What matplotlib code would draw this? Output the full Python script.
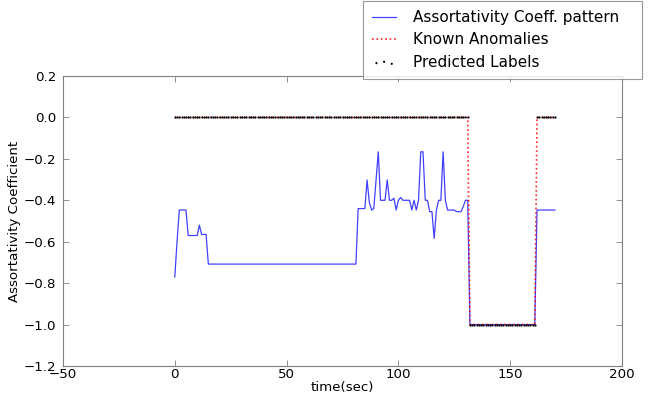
import matplotlib
matplotlib.use("Agg")
import matplotlib.pyplot as plt

# time axis (seconds)
time = list(range(0, 171))

# Assortativity coefficient pattern
assort_start = [-0.77, -0.60, -0.447, -0.447, -0.447, -0.447, -0.57, -0.57, -0.57, -0.57,
                -0.57, -0.52, -0.565, -0.565, -0.565]          # t = 0..14
assort_flat = [-0.708] * 67                                      # t = 15..81
assort_active = [
    -0.44, -0.44, -0.44, -0.44, -0.302, -0.41, -0.447, -0.44, -0.30,    # 82-90
    -0.166, -0.40, -0.40, -0.40, -0.302, -0.40, -0.40, -0.39, -0.447,   # 91-99
    -0.40, -0.386, -0.40, -0.40, -0.40, -0.40, -0.447, -0.40, -0.447,   # 100-108
    -0.40, -0.166, -0.166, -0.40, -0.40, -0.455, -0.455, -0.584, -0.447,  # 109-117
    -0.40, -0.40, -0.166, -0.40, -0.447, -0.447, -0.447, -0.447, -0.455,  # 118-126
    -0.455, -0.455, -0.43, -0.40, -0.40,                                  # 127-131
]
assort_anomaly = [-1.0] * 30                                     # t = 132..161
assort_end = [-0.447] * 9                                        # t = 162..170
assort = assort_start + assort_flat + assort_active + assort_anomaly + assort_end

# known anomalies (label signal) and predicted labels
known = [0.0] * 132 + [-1.0] * 30 + [0.0] * 9
predicted = [0.0] * 132 + [-1.0] * 30 + [0.0] * 9

xticks = [-50, 0, 50, 100, 150, 200]
yticks = [0.2, 0.0, -0.2, -0.4, -0.6, -0.8, -1.0, -1.2]

plt.rcParams['font.family'] = ['DejaVu Sans']
fig = plt.figure(figsize=(6.5, 3.98), dpi=100)
ax = fig.add_axes([63 / 650, 32 / 398, (622 - 63) / 650, (366 - 76) / 398])

ax.plot(time, assort, color='#0000ff', lw=0.9, alpha=0.75,
        label='Assortativity Coeff. pattern')
ax.plot(time, known, color='red', lw=1.2, linestyle=':', alpha=0.85,
        label='Known Anomalies')
ax.scatter(time, predicted, s=2.5, color='black', marker='o', lw=0,
           label='Predicted Labels', zorder=3)

ax.set_xlim(-50, 200)
ax.set_ylim(-1.2, 0.2)
ax.set_xticks(xticks)
ax.set_yticks(yticks)
ax.set_yticklabels(['%.1f' % v if v >= 0 else '\u2212%.1f' % abs(v) for v in yticks])
ax.set_xticklabels([str(v) if v >= 0 else '\u2212%d' % abs(v) for v in xticks])
ax.tick_params(direction='in', top=True, right=True, length=4, width=0.6,
               labelsize=9.6, color='0.5')
ax.tick_params(axis='x', pad=1.5)
ax.tick_params(axis='y', pad=5)
for s in ax.spines.values():
    s.set_color('0.5')
    s.set_linewidth(0.8)
ax.set_xlabel('time(sec)', fontsize=9.6, labelpad=0)
ax.set_ylabel('Assortativity Coefficient', fontsize=9.6, labelpad=2)

leg = fig.legend(loc='upper left', bbox_to_anchor=(363 / 650, 0.0, 279 / 650, 1.0 - 1 / 398),
                 mode='expand',
                 fontsize=11, scatterpoints=3, frameon=True, fancybox=False,
                 handlelength=1.6, handletextpad=1.1, borderpad=0.58,
                 borderaxespad=0.0, labelspacing=0.5)
leg.get_frame().set_edgecolor('0.5')
leg.get_frame().set_linewidth(0.8)

fig.savefig('out.png', dpi=100)
